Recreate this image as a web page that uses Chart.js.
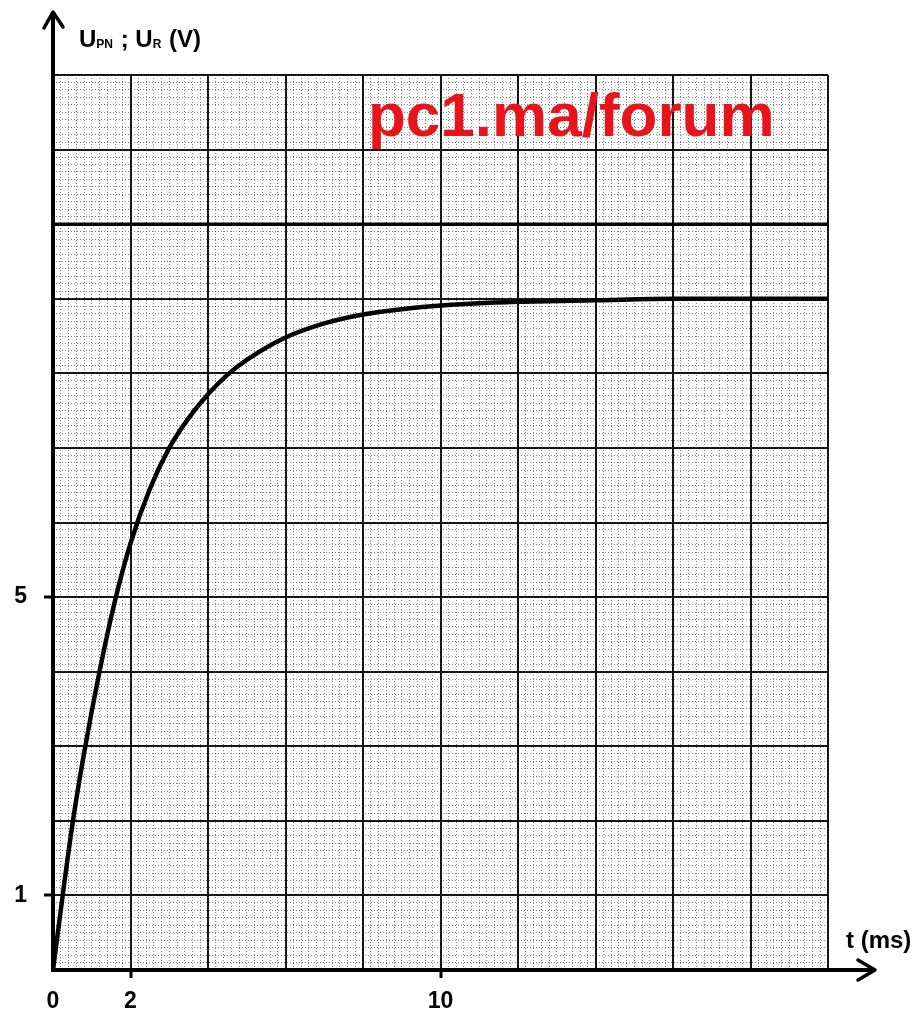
<!DOCTYPE html>
<html>
<head>
<meta charset="utf-8">
<script src="https://cdn.jsdelivr.net/npm/chart.js@4.4.1/dist/chart.umd.min.js"></script>
<style>
  html, body { margin: 0; padding: 0; background: #fff; }
  canvas { display: block; }
</style>
</head>
<body>
<canvas id="graphe" width="918" height="1017"></canvas>
<script>
// valeurs
const timeMs = [0, 0.25, 0.5, 0.8, 1.2, 1.6, 2, 2.5, 3, 3.5, 4, 4.5, 5, 6, 7, 8, 9, 10, 12, 14, 16, 18, 20];
const uR = [0, 1.0, 1.95, 2.9, 4.0, 4.95, 5.72, 6.45, 7.0, 7.4, 7.72, 7.98, 8.18, 8.48, 8.67, 8.79, 8.86, 8.91, 8.96, 8.98, 9.0, 9.0, 9.0];
const uPNTime = [0, 20];
const uPN = [10, 10];

const xTickLabels = [0, 2, 10];
const yTickLabels = [1, 5];
const xTickMarks = [2, 10];

const FONT = "'Liberation Sans', Arial, sans-serif";

const toPoints = (xs, ys) => xs.map((x, i) => ({ x: x, y: ys[i] }));

// fleches des axes, noms des axes et filigrane
const decorPlugin = {
  id: 'decor',
  afterDraw(chart) {
    const ctx = chart.ctx;
    const area = chart.chartArea;
    ctx.save();
    ctx.strokeStyle = '#000';
    ctx.lineCap = 'round';
    ctx.lineJoin = 'round';

    // axe vertical
    ctx.lineWidth = 4;
    ctx.beginPath();
    ctx.moveTo(area.left, area.top);
    ctx.lineTo(area.left, 14);
    ctx.stroke();
    ctx.lineWidth = 3.5;
    ctx.beginPath();
    ctx.moveTo(area.left - 9, 28);
    ctx.lineTo(area.left, 12);
    ctx.lineTo(area.left + 10, 27);
    ctx.stroke();

    // axe horizontal
    ctx.lineWidth = 4;
    ctx.beginPath();
    ctx.moveTo(area.right, area.bottom);
    ctx.lineTo(873, area.bottom);
    ctx.stroke();
    ctx.lineWidth = 3.5;
    ctx.beginPath();
    ctx.moveTo(858, area.bottom - 10);
    ctx.lineTo(875, area.bottom);
    ctx.lineTo(858, area.bottom + 10);
    ctx.stroke();

    // U_PN ; U_R (V)
    ctx.fillStyle = '#000';
    ctx.textBaseline = 'alphabetic';
    ctx.textAlign = 'left';
    let x = 79;
    const base = 47;
    const parts = [
      ['U', 24, 0], ['PN', 12, 1], [' ; ', 24, 0], ['U', 24, 0], ['R', 12, 1], [' (V)', 24, 0],
    ];
    parts.forEach(([txt, size, sub]) => {
      ctx.font = 'bold ' + size + 'px ' + FONT;
      ctx.fillText(txt, x, base + (sub ? 1 : 0));
      x += ctx.measureText(txt).width + (sub ? 1 : 0);
    });

    // t (ms)
    ctx.font = 'bold 24px ' + FONT;
    ctx.fillText('t (ms)', 846, 948);

    // filigrane
    ctx.fillStyle = '#e8141c';
    ctx.font = 'bold 62px ' + FONT;
    ctx.fillText('pc1.ma/forum', 368, 136);
    ctx.restore();
  },
};

const minorGrid = {
  color: 'rgba(50,50,50,0.6)',
  lineWidth: 1,
  drawTicks: false,
};

new Chart(document.getElementById('graphe'), {
  type: 'line',
  plugins: [decorPlugin],
  data: {
    datasets: [
      {
        label: 'U_R',
        data: toPoints(timeMs, uR),
        borderColor: '#000',
        borderWidth: 4.5,
        pointRadius: 0,
        cubicInterpolationMode: 'monotone',
        fill: false,
      },
      {
        label: 'U_PN',
        data: toPoints(uPNTime, uPN),
        borderColor: '#000',
        borderWidth: 3.5,
        pointRadius: 0,
        fill: false,
      },
    ],
  },
  options: {
    responsive: false,
    animation: false,
    layout: { padding: { top: 75, right: 90, left: 0, bottom: 0 } },
    plugins: {
      legend: { display: false },
      tooltip: { enabled: false },
    },
    scales: {
      x: {
        type: 'linear',
        position: 'bottom',
        min: 0,
        max: 20,
        afterFit: (scale) => { scale.height = 47; },
        ticks: {
          stepSize: 2,
          autoSkip: false,
          maxRotation: 0,
          padding: 10,
          color: '#000',
          font: { family: FONT, size: 23, weight: 'bold' },
          callback: (value) => (xTickLabels.includes(value) ? String(value) : ''),
        },
        grid: {
          color: '#111',
          lineWidth: 2,
          tickLength: 8,
          tickWidth: 3,
          tickColor: (c) => (c.tick && xTickMarks.includes(c.tick.value) ? '#000' : 'rgba(0,0,0,0)'),
        },
        border: { display: true, color: '#000', width: 4 },
      },
      y: {
        type: 'linear',
        position: 'left',
        min: 0,
        max: 12,
        afterFit: (scale) => { scale.width = 53; },
        ticks: {
          stepSize: 1,
          maxTicksLimit: 20,
          autoSkip: false,
          padding: 17,
          color: '#000',
          font: { family: FONT, size: 23, weight: 'bold' },
          callback: (value) => (yTickLabels.includes(value) ? String(value) : ''),
        },
        grid: {
          color: '#111',
          lineWidth: 2,
          tickLength: 9,
          tickWidth: 3,
          tickColor: (c) => (c.tick && yTickLabels.includes(c.tick.value) ? '#000' : 'rgba(0,0,0,0)'),
        },
        border: { display: true, color: '#000', width: 4 },
      },
      xMinor: {
        type: 'linear',
        position: 'bottom',
        min: 0,
        max: 20,
        z: -1,
        afterFit: (scale) => { scale.height = 0; },
        ticks: { display: false, stepSize: 0.2, autoSkip: false, maxTicksLimit: 200 },
        grid: minorGrid,
        border: { display: false, dash: [1, 2] },
      },
      yMinor: {
        type: 'linear',
        position: 'left',
        min: 0,
        max: 12,
        z: -1,
        afterFit: (scale) => { scale.width = 0; },
        ticks: { display: false, stepSize: 0.1, autoSkip: false, maxTicksLimit: 200 },
        grid: minorGrid,
        border: { display: false, dash: [1, 2] },
      },
    },
  },
});
</script>
</body>
</html>
